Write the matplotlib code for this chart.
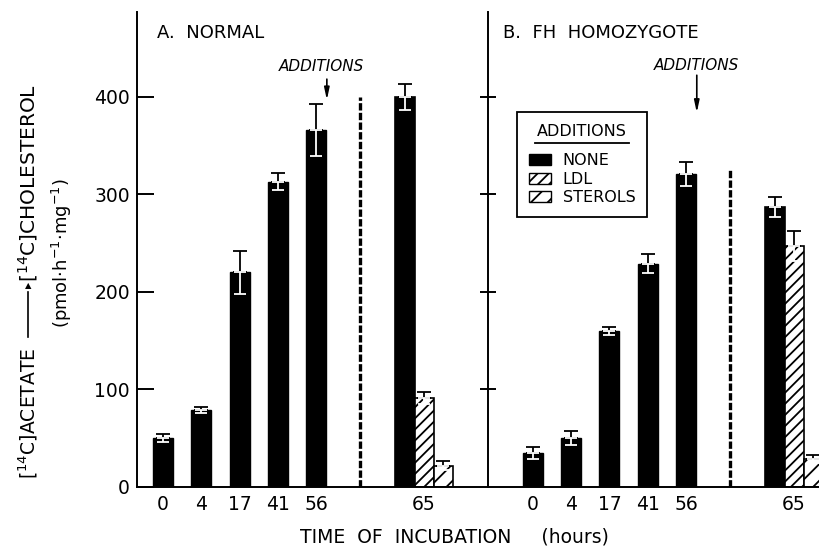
import matplotlib.pyplot as plt
import numpy as np
from matplotlib.patches import Patch
from matplotlib.lines import Line2D

plt.rcParams['font.family'] = 'DejaVu Sans'
plt.rcParams['hatch.linewidth'] = 1.3

times = ["0", "4", "17", "41", "56"]
groups = ["NONE", "LDL", "STEROLS"]

# panel A, normal cells
normal_vals = [50, 79, 220, 313, 366]
normal_errs = [4, 3, 22, 9, 27]
normal_65 = [400, 91, 22]
normal_65_err = [13, 6, 5]

# panel B, FH homozygote
fh_vals = [35, 50, 160, 229, 321]
fh_errs = [6, 7, 4, 10, 12]
fh_65 = [287, 247, 29]
fh_65_err = [10, 15, 4]

face = ["black", "white", "white"]
hatches = ["", "///", "//"]

W, H = 819, 550
fig = plt.figure(figsize=(W / 100, H / 100), dpi=100)
axL = fig.add_axes([137 / W, 1 - 487 / H, (488 - 137) / W, 475 / H])
axR = fig.add_axes([488 / W, 1 - 487 / H, (819 - 488) / W, 475 / H])


def panel(ax, vals, errs, g_vals, g_errs, xlim, dash_top, arrow_y):
    x = np.arange(len(times))
    gx = 6.82 + np.array([-0.5, 0.0, 0.5])
    ax.bar(x, vals, width=0.52, color="black", edgecolor="black", lw=1.0, zorder=2)
    for i in range(3):
        ax.bar(gx[i], g_vals[i], width=0.5, facecolor=face[i], edgecolor="black",
               hatch=hatches[i], lw=1.2, zorder=2)
    allx = np.concatenate([x, gx])
    ally = np.array(list(vals) + list(g_vals))
    alle = np.array(list(errs) + list(g_errs))
    zero = np.zeros_like(alle)
    ax.errorbar(allx, ally, yerr=[zero, alle], fmt="none", ecolor="black",
                elinewidth=1.3, capsize=5, capthick=1.3, zorder=3)
    ax.errorbar(allx, ally, yerr=[alle, zero], fmt="none", ecolor="white",
                elinewidth=1.3, capsize=4, capthick=1.3, zorder=3)
    ax.vlines(5.14, 0, dash_top, colors="black", lw=2.4, linestyles=(0, (2.2, 0.7)))
    ax.annotate("", xy=(4.28, arrow_y[1]), xytext=(4.28, arrow_y[0]),
                arrowprops=dict(arrowstyle="-|>,head_width=0.15,head_length=0.7",
                                color="black", lw=1.2))
    ax.set_xlim(*xlim)
    ax.set_ylim(0, 487)
    ax.set_xticks(list(x) + [gx[1]])
    ax.set_xticklabels(times + ["65"])
    ax.tick_params(axis="x", length=0, pad=6, labelsize=13.5)
    ax.set_yticks([100, 200, 300, 400])
    for s in ["top", "right"]:
        ax.spines[s].set_visible(False)
    ax.spines["left"].set_linewidth(1.4)
    ax.spines["bottom"].set_linewidth(1.4)


panel(axL, normal_vals, normal_errs, normal_65, normal_65_err, (-0.68, 8.49), 400, (421, 394))
panel(axR, fh_vals, fh_errs, fh_65, fh_65_err, (-1.17, 7.47), 325, (425, 381))

axL.set_yticks([0, 100, 200, 300, 400])
axL.tick_params(axis="y", direction="in", length=12, width=1.4, pad=5, labelsize=13.5)
axR.tick_params(axis="y", direction="inout", length=12, width=1.4, labelleft=False)

axL.text(4.15, 431, "ADDITIONS", style="italic", ha="center", va="center", fontsize=11)
axR.text(4.28, 432, "ADDITIONS", style="italic", ha="center", va="center", fontsize=11)

axL.text(0.057, 0.956, "A.  NORMAL", transform=axL.transAxes, ha="left", va="center", fontsize=13)
axR.text(0.045, 0.956, "B.  FH  HOMOZYGOTE", transform=axR.transAxes, ha="left", va="center", fontsize=13)

handles = [Patch(facecolor=face[i], edgecolor="black", hatch=hatches[i], lw=1.0) for i in range(3)]
leg = axR.legend(handles, groups, title="ADDITIONS", loc="upper left",
                 bbox_to_anchor=(0.088, 0.789), borderaxespad=0, fancybox=False,
                 edgecolor="black", framealpha=1, fontsize=11.5, title_fontsize=11.5,
                 handlelength=1.4, handleheight=0.7, handletextpad=0.7,
                 labelspacing=0.23, borderpad=0.75)
leg.get_frame().set_linewidth(1.3)
leg._legend_box.sep = 10

# y label in pieces so the arrow can be long
fig.text(28 / W, 1 - 413 / H, r"[$^{14}$C]ACETATE", rotation=90,
         ha="center", va="center", fontsize=13.5)
fig.add_artist(Line2D([28 / W, 28 / W], [1 - 337 / H, 1 - 292 / H], color="black",
                      lw=1.2, transform=fig.transFigure))
fig.text(28 / W, 1 - 286 / H, "\u25B2", rotation=0, ha="center", va="center",
         fontsize=6)
fig.text(28 / W, 1 - 282 / H, r"[$^{14}$C]CHOLESTEROL", rotation=90,
         ha="center", va="bottom", fontsize=14.5)
fig.text(62 / W, 1 - 253 / H, r"(pmol$\cdot$h$^{-1}$$\cdot$mg$^{-1}$)",
         rotation=90, ha="center", va="center", fontsize=13)
fig.text(454 / W, 1 - 537 / H, "TIME  OF  INCUBATION     (hours)",
         ha="center", va="center", fontsize=13.5)

# underline the legend title
fig.canvas.draw()
bb = leg.get_title().get_window_extent()
fig.add_artist(Line2D([(bb.x0 - 2) / W, (bb.x1 + 2) / W], [(bb.y0 - 4) / H, (bb.y0 - 4) / H],
                      color="black", lw=1.3, transform=fig.transFigure))

fig.savefig("out.png", dpi=100)
